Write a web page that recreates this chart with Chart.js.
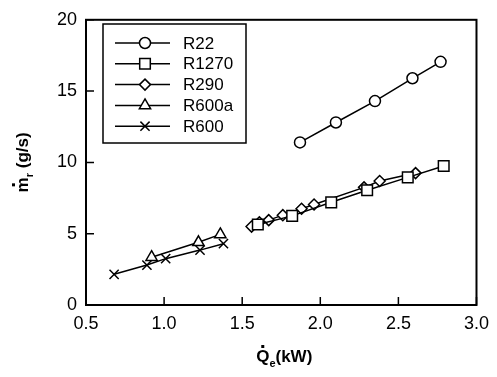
<!DOCTYPE html>
<html>
<head>
<meta charset="utf-8">
<script src="https://cdn.jsdelivr.net/npm/chart.js@4.4.0/dist/chart.umd.min.js"></script>
<style>
  html, body { margin: 0; padding: 0; background: #fff; }
  #wrap { width: 497px; height: 377px; }
</style>
</head>
<body>
<div id="wrap"><canvas id="chart"></canvas></div>
<script>
// refrigerant names and measured points (Qe in kW, mass flow in g/s)
const names = ['R22', 'R1270', 'R290', 'R600a', 'R600'];

const r22Q = [1.87, 2.10, 2.35, 2.59, 2.77];
const r22M = [11.4, 12.8, 14.3, 15.9, 17.05];

const r1270Q = [1.60, 1.82, 2.07, 2.30, 2.56, 2.79];
const r1270M = [5.65, 6.25, 7.2, 8.05, 8.95, 9.75];

const r290Q = [1.56, 1.61, 1.67, 1.76, 1.88, 1.96, 2.28, 2.38, 2.61];
const r290M = [5.5, 5.8, 5.95, 6.3, 6.75, 7.05, 8.25, 8.7, 9.25];

const r600aQ = [0.92, 1.22, 1.36];
const r600aM = [3.35, 4.4, 4.95];

const r600Q = [0.68, 0.89, 1.01, 1.23, 1.38];
const r600M = [2.15, 2.8, 3.25, 3.85, 4.3];

const xTicks = [0.5, 1.0, 1.5, 2.0, 2.5, 3.0];
const yTicks = [0, 5, 10, 15, 20];

function pts(xs, ys) {
    let out = []
    for (var i = 0; i < xs.length; i++) {
        out.push({ x: xs[i], y: ys[i] })
    }
    return out
}

function series(label, xs, ys, style, radius) {
    return {
        label: label,
        data: pts(xs, ys),
        borderColor: '#000',
        backgroundColor: '#fff',
        borderWidth: 1.5,
        pointStyle: style,
        pointRadius: radius,
        pointBorderColor: '#000',
        pointBackgroundColor: '#fff',
        pointBorderWidth: 1.5,
        showLine: true,
        tension: 0
    }
}

const FONT = '"Liberation Sans", Arial, Helvetica, sans-serif';

// frame, inward ticks, axis titles and legend box
const decor = {
    id: 'decor',
    afterDraw(chart) {
        const ctx = chart.ctx;
        const a = chart.chartArea;
        const xs = chart.scales.x, ys = chart.scales.y;
        ctx.save();
        ctx.strokeStyle = '#000';
        ctx.lineWidth = 2;
        ctx.strokeRect(a.left, a.top, a.right - a.left, a.bottom - a.top);

        ctx.lineWidth = 1.5;
        ctx.beginPath();
        xTicks.forEach(function (v) {
            const px = xs.getPixelForValue(v);
            ctx.moveTo(px, a.bottom);
            ctx.lineTo(px, a.bottom - 8);
        });
        yTicks.forEach(function (v) {
            const py = ys.getPixelForValue(v);
            ctx.moveTo(a.left, py);
            ctx.lineTo(a.left + 8, py);
        });
        ctx.stroke();

        // x title: Q dot, subscript e, (kW)
        ctx.fillStyle = '#000';
        ctx.textBaseline = 'alphabetic';
        ctx.font = 'bold 17px ' + FONT;
        const cx = (a.left + a.right) / 2 + 3;
        const by = 362;
        const wQ = ctx.measureText('Q').width;
        ctx.font = 'bold 11px ' + FONT;
        const wE = ctx.measureText('e').width;
        ctx.font = 'bold 17px ' + FONT;
        const wK = ctx.measureText('(kW)').width;
        let sx = cx - (wQ + wE + wK) / 2;
        ctx.textAlign = 'left';
        ctx.fillText('Q', sx, by);
        ctx.fillRect(sx + wQ / 2 - 1.5, by - 17, 3, 3);
        ctx.font = 'bold 11px ' + FONT;
        ctx.fillText('e', sx + wQ, by + 5);
        ctx.font = 'bold 17px ' + FONT;
        ctx.fillText('(kW)', sx + wQ + wE, by);

        // y title rotated: m dot, subscript r, (g/s)
        ctx.save();
        ctx.translate(28, (a.top + a.bottom) / 2);
        ctx.rotate(-Math.PI / 2);
        const wM = ctx.measureText('m').width;
        ctx.font = 'bold 11px ' + FONT;
        const wR = ctx.measureText('r').width;
        ctx.font = 'bold 17px ' + FONT;
        const wG = ctx.measureText(' (g/s)').width;
        sx = -(wM + wR + wG) / 2;
        ctx.fillText('m', sx, 0);
        ctx.fillRect(sx + wM / 2 - 1.5, -16, 3, 3);
        ctx.font = 'bold 11px ' + FONT;
        ctx.fillText('r', sx + wM, 5);
        ctx.font = 'bold 17px ' + FONT;
        ctx.fillText(' (g/s)', sx + wM + wR, 0);
        ctx.restore();

        // legend
        const lx = 103, ly = 24, lw = 143, lh = 119;
        ctx.fillStyle = '#fff';
        ctx.fillRect(lx, ly, lw, lh);
        ctx.lineWidth = 1.5;
        ctx.strokeStyle = '#000';
        ctx.strokeRect(lx, ly, lw, lh);
        ctx.font = '17px ' + FONT;
        ctx.textBaseline = 'middle';
        chart.data.datasets.forEach(function (ds, i) {
            const ry = ly + 19 + i * 20.8;
            ctx.beginPath();
            ctx.moveTo(lx + 12, ry);
            ctx.lineTo(lx + 67, ry);
            ctx.lineWidth = 1.5;
            ctx.strokeStyle = '#000';
            ctx.stroke();
            ctx.fillStyle = '#fff';
            ctx.strokeStyle = '#000';
            Chart.helpers.drawPoint(ctx, {
                pointStyle: ds.pointStyle,
                radius: ds.pointRadius,
                rotation: 0,
                borderWidth: 1.5
            }, lx + 42, ry);
            ctx.fillStyle = '#000';
            ctx.fillText(ds.label, lx + 80, ry + 1);
        });
        ctx.restore();
    }
};

new Chart(document.getElementById('chart'), {
    type: 'scatter',
    data: {
        datasets: [
            series(names[0], r22Q, r22M, 'circle', 5.5),
            series(names[1], r1270Q, r1270M, 'rect', 7.5),
            series(names[2], r290Q, r290M, 'rectRot', 5.5),
            series(names[3], r600aQ, r600aM, 'triangle', 6.5),
            series(names[4], r600Q, r600M, 'crossRot', 6.5)
        ]
    },
    options: {
        responsive: true,
        maintainAspectRatio: false,
        animation: false,
        layout: { padding: { left: 0, top: 15, right: 17, bottom: 0 } },
        plugins: {
            legend: { display: false },
            tooltip: { enabled: false }
        },
        scales: {
            x: {
                type: 'linear',
                min: 0.5,
                max: 3.0,
                afterBuildTicks: function (s) { s.ticks = xTicks.map(function (v) { return { value: v } }) },
                afterFit: function (s) { s.height = 72 },
                grid: { display: false, drawTicks: false },
                border: { display: false },
                ticks: {
                    padding: 8,
                    color: '#000',
                    font: { family: FONT, size: 18 },
                    callback: function (v) { return Number(v).toFixed(1) }
                }
            },
            y: {
                type: 'linear',
                min: 0,
                max: 20,
                afterBuildTicks: function (s) { s.ticks = yTicks.map(function (v) { return { value: v } }) },
                afterFit: function (s) { s.width = 86 },
                grid: { display: false, drawTicks: false },
                border: { display: false },
                ticks: {
                    padding: 9,
                    color: '#000',
                    font: { family: FONT, size: 18 }
                }
            }
        }
    },
    plugins: [decor]
});
</script>
</body>
</html>
